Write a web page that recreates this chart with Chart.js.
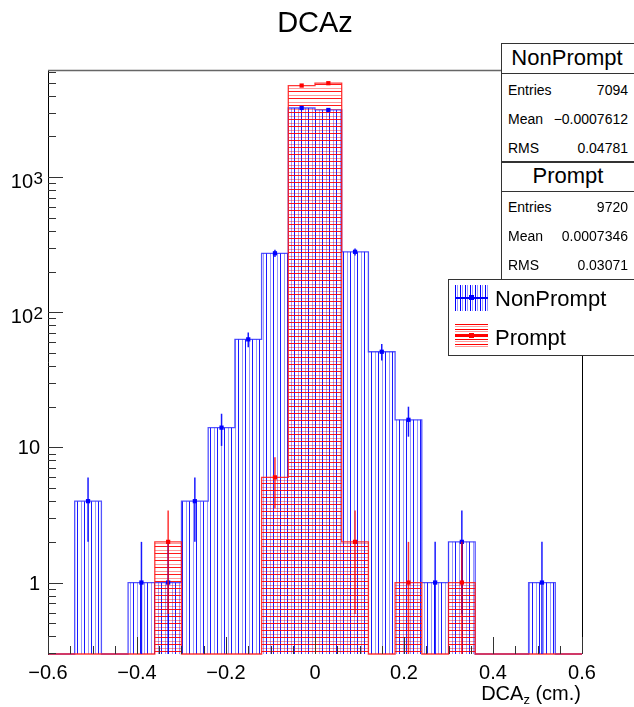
<!DOCTYPE html>
<html>
<head>
<meta charset="utf-8">
<script src="https://cdn.jsdelivr.net/npm/chart.js@4.4.0/dist/chart.umd.min.js"></script>
<style>
  html, body { margin: 0; padding: 0; background: #fff; }
  #wrap { position: relative; width: 634px; height: 707px; overflow: hidden;
          font-family: "Liberation Sans", Arial, sans-serif; color: #000; }
  #wrap canvas { position: absolute; left: 0; top: 0; }
  .txt { position: absolute; line-height: 1; white-space: nowrap; }
  .ctr { transform: translateX(-50%); }
  .box { position: absolute; background: #fff; border: 1px solid #333; box-sizing: border-box; }
  .sep { position: absolute; left: 501px; width: 140px; background: #333; }
  .sym { position: absolute; }
</style>
</head>
<body>
<div id="wrap">
  <canvas id="dcaz-chart" width="634" height="707"></canvas>

  <div class="txt ctr" style="left:315px; top:8px; font-size:29px;">DCAz</div>

  <!-- boites de stats -->
  <div class="box" style="left:501px; top:43px; width:140px; height:237px;"></div>
  <div class="sep" style="top:73px; height:1px;"></div>
  <div class="sep" style="top:161px; height:2px;"></div>
  <div class="sep" style="top:191px; height:1px;"></div>
  <div class="txt ctr" style="left:567px; top:47px; font-size:22px;">NonPrompt</div>
  <div class="txt" style="left:508px; top:83px; font-size:14px;">Entries</div>
  <div class="txt" style="right:6px; top:83px; font-size:14px;">7094</div>
  <div class="txt" style="left:508px; top:112px; font-size:14px;">Mean</div>
  <div class="txt" style="right:6px; top:112px; font-size:14px;">&minus;0.0007612</div>
  <div class="txt" style="left:508px; top:141px; font-size:14px;">RMS</div>
  <div class="txt" style="right:6px; top:141px; font-size:14px;">0.04781</div>
  <div class="txt ctr" style="left:568px; top:165px; font-size:22px;">Prompt</div>
  <div class="txt" style="left:508px; top:200px; font-size:14px;">Entries</div>
  <div class="txt" style="right:6px; top:200px; font-size:14px;">9720</div>
  <div class="txt" style="left:508px; top:229px; font-size:14px;">Mean</div>
  <div class="txt" style="right:6px; top:229px; font-size:14px;">0.0007346</div>
  <div class="txt" style="left:508px; top:258px; font-size:14px;">RMS</div>
  <div class="txt" style="right:6px; top:258px; font-size:14px;">0.03071</div>

  <!-- legende -->
  <div class="box" style="left:448px; top:279px; width:200px; height:77px;"></div>
  <div class="sym" style="left:455px; top:285px; width:33px; height:26px;
       background: repeating-linear-gradient(90deg, #0000ff 0 1px, transparent 1px 2.5px, #9999ff 2.5px 3.5px, transparent 3.5px 5px);"></div>
  <div class="sym" style="left:455px; top:297px; width:33px; height:2px; background:#0000ff;"></div>
  <div class="sym" style="left:469px; top:295px; width:5px; height:5px; background:#0000ff;"></div>
  <div class="sym" style="left:455px; top:324px; width:33px; height:24px;
       background: repeating-linear-gradient(180deg, #ff0000 0 1px, transparent 1px 2.5px, #ff9999 2.5px 3.5px, transparent 3.5px 5px);"></div>
  <div class="sym" style="left:455px; top:335px; width:33px; height:2px; background:#ff0000;"></div>
  <div class="sym" style="left:469px; top:333px; width:5px; height:5px; background:#ff0000;"></div>
  <div class="txt" style="left:495px; top:288px; font-size:22px;">NonPrompt</div>
  <div class="txt" style="left:495px; top:327px; font-size:22px;">Prompt</div>

  <div class="txt" style="right:53px; top:683px; font-size:20px;">DCA<sub style="font-size:13px; vertical-align:-4px;">z</sub> (cm.)</div>
</div>

<script>
const binCenters = [-0.57, -0.51, -0.45, -0.39, -0.33, -0.27, -0.21, -0.15, -0.09, -0.03,
                    0.03, 0.09, 0.15, 0.21, 0.27, 0.33, 0.39, 0.45, 0.51, 0.57];
const binWidth = 0.06;
const nonPromptCounts = [0, 4, 0, 1, 1, 4, 14, 63, 273, 3245, 3138, 280, 51, 16, 1, 2, 0, 0, 1, 0];
const promptCounts = [0, 0, 0, 0, 2, 0, 0, 0, 6, 4757, 4951, 2, 0, 1, 0, 1, 0, 0, 0, 0];
const xTickValues = [-0.6, -0.4, -0.2, 0, 0.2, 0.4, 0.6];
const yTickValues = [1, 10, 100, 1000];
const yTickBase = ['1', '10', '10', '10'];
const yTickExp = ['', '', '2', '3'];
const Y_MIN = 0.296;
const Y_MAX = 6200;

const FONT = '"Liberation Sans", Arial, sans-serif';

// Motifs hachurés façon ROOT
function makeHatch(vertical, r, g, b) {
    const c = document.createElement('canvas');
    c.width = 7;
    c.height = 7;
    const cx = c.getContext('2d');
    cx.fillStyle = `rgba(${r}, ${g}, ${b}, 0.9)`;
    if (vertical) cx.fillRect(0, 0, 1, 7); else cx.fillRect(0, 0, 7, 1);
    cx.fillStyle = `rgba(${r}, ${g}, ${b}, 0.4)`;
    if (vertical) cx.fillRect(4, 0, 1, 7); else cx.fillRect(0, 4, 7, 1);
    return cx.createPattern(c, 'repeat');
}

// Contour en escalier : un point par bord bas de bin, plus le bord final.
// Les bins vides sont posés sur le bas de l'axe log (0 n'existe pas en log).
function stepPoints(counts) {
    const pts = counts.map((n, i) => ({ x: binCenters[i] - binWidth / 2, y: Math.max(n, Y_MIN) }));
    pts.push({ x: binCenters[binCenters.length - 1] + binWidth / 2, y: Y_MIN });
    return pts;
}

function markerPoints(counts) {
    return counts.map((n, i) => ({ x: binCenters[i], y: n > 0 ? n : null }));
}

function fmtX(v) {
    if (Math.abs(v) < 1e-9) return '0';
    const s = Math.abs(v).toFixed(1);
    return v < 0 ? '\u2212' + s : s;
}

// Barres d'erreur poissoniennes, dessinées sous les marqueurs
const errorBarsPlugin = {
    id: 'errorBars',
    beforeDatasetDraw(chart, args) {
        const ds = chart.data.datasets[args.index];
        if (!ds.errColor) return;
        const { ctx, chartArea, scales } = chart;
        ctx.save();
        ctx.beginPath();
        ctx.rect(chartArea.left, chartArea.top, chartArea.right - chartArea.left, chartArea.bottom - chartArea.top);
        ctx.clip();
        ctx.strokeStyle = ds.errColor;
        ctx.lineWidth = 1.5;
        ds.data.forEach(p => {
            if (p.y === null) return;
            const err = Math.sqrt(p.y);
            const px = scales.x.getPixelForValue(p.x);
            const lo = p.y - err > 0 ? scales.y.getPixelForValue(p.y - err) : chartArea.bottom;
            const hi = scales.y.getPixelForValue(p.y + err);
            ctx.beginPath();
            ctx.moveTo(px, lo);
            ctx.lineTo(px, hi);
            ctx.stroke();
        });
        ctx.restore();
    }
};

// Cadre, graduations intérieures et étiquettes de l'axe log (avec exposant)
const framePlugin = {
    id: 'frame',
    afterDraw(chart) {
        const { ctx, chartArea: a, scales } = chart;
        ctx.save();
        ctx.lineWidth = 1;
        ctx.strokeStyle = '#000';
        ctx.beginPath();
        ctx.moveTo(a.left + 0.5, a.top);
        ctx.lineTo(a.left + 0.5, a.bottom + 0.5);
        ctx.moveTo(a.right + 0.5, a.bottom);
        ctx.lineTo(a.right + 0.5, a.top);
        ctx.stroke();
        ctx.strokeStyle = '#666';
        ctx.lineWidth = 1.5;
        ctx.beginPath();
        ctx.moveTo(a.left, a.top + 0.5);
        ctx.lineTo(a.right, a.top + 0.5);
        ctx.stroke();

        ctx.strokeStyle = '#333';
        ctx.lineWidth = 1;
        ctx.beginPath();
        for (let k = -12; k <= 12; k++) {
            const v = k * 0.05;
            const px = Math.round(scales.x.getPixelForValue(v)) + 0.5;
            const len = k % 4 === 0 ? 17 : 8;
            ctx.moveTo(px, a.bottom);
            ctx.lineTo(px, a.bottom - len);
        }
        const yMin = scales.y.min, yMax = scales.y.max;
        for (let d = 0.1; d < yMax; d *= 10) {
            for (let m = 1; m <= 9; m++) {
                const v = m * d;
                if (v < yMin || v > yMax) continue;
                const py = Math.round(scales.y.getPixelForValue(v)) + 0.5;
                const len = m === 1 ? 15 : 8;
                ctx.moveTo(a.left, py);
                ctx.lineTo(a.left + len, py);
            }
        }
        ctx.stroke();

        ctx.fillStyle = '#000';
        ctx.textAlign = 'right';
        ctx.textBaseline = 'alphabetic';
        const xRight = a.left - 5;
        yTickValues.forEach((v, i) => {
            const py = scales.y.getPixelForValue(v);
            if (yTickExp[i]) {
                ctx.font = `17px ${FONT}`;
                const w = ctx.measureText(yTickExp[i]).width;
                ctx.fillText(yTickExp[i], xRight, py + 7);
                ctx.font = `20px ${FONT}`;
                ctx.fillText(yTickBase[i], xRight - w - 0.5, py + 11);
            } else {
                ctx.font = `20px ${FONT}`;
                ctx.fillText(yTickBase[i], xRight - 3, py + 7);
            }
        });
        ctx.restore();
    }
};

const ctx = document.getElementById('dcaz-chart');
new Chart(ctx, {
    type: 'line',
    data: {
        datasets: [
            {
                label: 'NonPrompt',
                data: stepPoints(nonPromptCounts),
                stepped: 'before',
                fill: 'start',
                clip: 3,
                backgroundColor: makeHatch(true, 0, 0, 255),
                borderColor: 'rgba(40, 40, 255, 0.8)',
                borderWidth: 1.3,
                pointRadius: 0,
                order: 3
            },
            {
                label: 'Prompt',
                data: stepPoints(promptCounts),
                stepped: 'before',
                fill: 'start',
                clip: 3,
                backgroundColor: makeHatch(false, 255, 0, 0),
                borderColor: 'rgba(255, 20, 20, 0.85)',
                borderWidth: 1.3,
                pointRadius: 0,
                order: 2
            },
            {
                label: 'NonPrompt points',
                data: markerPoints(nonPromptCounts),
                showLine: false,
                pointStyle: 'rect',
                pointRadius: 3,
                pointBackgroundColor: '#0000ff',
                pointBorderColor: '#0000ff',
                pointBorderWidth: 0,
                errColor: 'rgba(0, 0, 255, 0.9)',
                order: 1
            },
            {
                label: 'Prompt points',
                data: markerPoints(promptCounts),
                showLine: false,
                pointStyle: 'rect',
                pointRadius: 3,
                pointBackgroundColor: '#ff0000',
                pointBorderColor: '#ff0000',
                pointBorderWidth: 0,
                errColor: 'rgba(255, 0, 0, 0.8)',
                order: 0
            }
        ]
    },
    options: {
        responsive: false,
        animation: false,
        layout: { padding: { top: 70, right: 52, left: 0, bottom: 0 } },
        plugins: {
            legend: { display: false },
            tooltip: { enabled: false },
            title: { display: false }
        },
        scales: {
            x: {
                type: 'linear',
                min: -0.6,
                max: 0.6,
                grid: { display: false, drawTicks: false },
                border: { display: false },
                afterBuildTicks: scale => { scale.ticks = xTickValues.map(v => ({ value: v })); },
                afterFit: scale => { scale.height = 53; },
                ticks: {
                    autoSkip: false,
                    maxRotation: 0,
                    padding: 7,
                    color: '#000',
                    font: { size: 20, family: FONT },
                    callback: v => fmtX(v)
                }
            },
            y: {
                type: 'logarithmic',
                min: Y_MIN,
                max: Y_MAX,
                grid: { display: false, drawTicks: false },
                border: { display: false },
                afterBuildTicks: scale => { scale.ticks = yTickValues.map(v => ({ value: v })); },
                afterFit: scale => { scale.width = 48; },
                ticks: { display: false }
            }
        }
    },
    plugins: [errorBarsPlugin, framePlugin]
});
</script>
</body>
</html>
